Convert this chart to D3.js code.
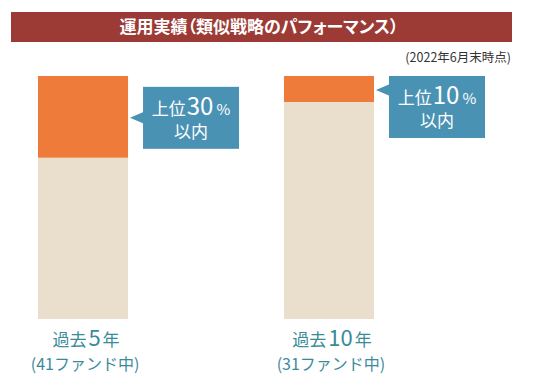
<!DOCTYPE html>
<html><head><meta charset="utf-8">
<script src="https://cdn.jsdelivr.net/npm/d3@7"></script>
<style>
html,body{margin:0;padding:0;background:#fff;}
svg{display:block;font-family:"Noto Sans CJK JP","Noto Sans",sans-serif;}
.palt{font-feature-settings:"palt";}
</style></head>
<body>
<script>
const title = "運用実績（類似戦略のパフォーマンス）";
const subtitle = "(2022年6月末時点)";
const categories = ["過去5年", "過去10年"];
const periodYears = ["5", "10"];
const fundCounts = ["(41ファンド中)", "(31ファンド中)"];
const topShare = [33.6, 10.7];      // orange part of each bar (% of bar height)
const rankPct = ["30", "10"];       // callout numbers

const W = 535, H = 390;
const svg = d3.select("body").append("svg").attr("width", W).attr("height", H);

// title bar
svg.append("rect").attr("x", 11).attr("y", 12).attr("width", 501).attr("height", 30).attr("fill", "#9c3b35");
svg.append("text").attr("class", "palt").attr("x", 259).attr("y", 33).attr("text-anchor", "middle")
  .attr("fill", "#fff").attr("font-size", 17).attr("font-weight", "bold").text(title);
svg.append("text").attr("x", 511).attr("y", 62).attr("text-anchor", "end")
  .attr("fill", "#333").attr("font-size", 12.5).text(subtitle);

const x = d3.scaleBand().domain(categories).range([38, 374]).paddingInner(0.634).paddingOuter(0);
const y = d3.scaleLinear().domain([0, 100]).range([319, 76]);

const data = categories.map((c, i) => ({c, top: topShare[i], yrs: periodYears[i], funds: fundCounts[i], pct: rankPct[i]}));

const g = svg.append("g");
// beige full bars
g.selectAll("rect.base").data(data).join("rect").attr("class", "base")
  .attr("x", d => x(d.c)).attr("width", x.bandwidth())
  .attr("y", y(100)).attr("height", y(0) - y(100)).attr("fill", "#eadfcc");
// orange top segments
g.selectAll("rect.top").data(data).join("rect").attr("class", "top")
  .attr("x", d => x(d.c)).attr("width", x.bandwidth())
  .attr("y", y(100)).attr("height", d => y(100 - d.top) - y(100)).attr("fill", "#ee7b3a");

// callouts
const boxW = 96, boxH = 62;
data.forEach(d => {
  const right = x(d.c) + x.bandwidth();
  const mid = (y(100) + y(100 - d.top)) / 2 + 1;
  const bx = right + 15;
  const by = Math.max(y(100), mid - 31);
  const cg = svg.append("g");
  cg.append("rect").attr("x", bx).attr("y", by).attr("width", boxW).attr("height", boxH).attr("fill", "#4a92b4");
  cg.append("path").attr("d", `M${right + 2},${mid} L${bx + 1},${mid - 6} L${bx + 1},${mid + 6} Z`).attr("fill", "#4a92b4");
  const t1 = cg.append("text").attr("x", bx + boxW / 2).attr("y", by + 28).attr("text-anchor", "middle").attr("fill", "#fff");
  t1.append("tspan").attr("font-size", 17).text("上位");
  t1.append("tspan").attr("font-size", 24).attr("dx", 1).text(d.pct);
  t1.append("tspan").attr("font-size", 15).attr("dx", 3).text("%");
  cg.append("text").attr("x", bx + boxW / 2).attr("y", by + 51).attr("text-anchor", "middle")
    .attr("fill", "#fff").attr("font-size", 17).text("以内");
});

// bottom labels
const teal = "#3a8b9a";
data.forEach(d => {
  const cx = x(d.c) + x.bandwidth() / 2 + 3;
  const t = svg.append("text").attr("x", cx).attr("y", 346).attr("text-anchor", "middle").attr("fill", teal);
  t.append("tspan").attr("font-size", 17).text(d.c.replace(d.yrs + "年", ""));
  t.append("tspan").attr("font-size", 22).attr("dx", 2).text(d.yrs);
  t.append("tspan").attr("font-size", 17).attr("dx", 2).text("年");
  svg.append("text").attr("x", cx - 1).attr("y", 369.5).attr("text-anchor", "middle").attr("fill", teal)
    .attr("font-size", 16).text(d.funds);
});
</script>
</body></html>
